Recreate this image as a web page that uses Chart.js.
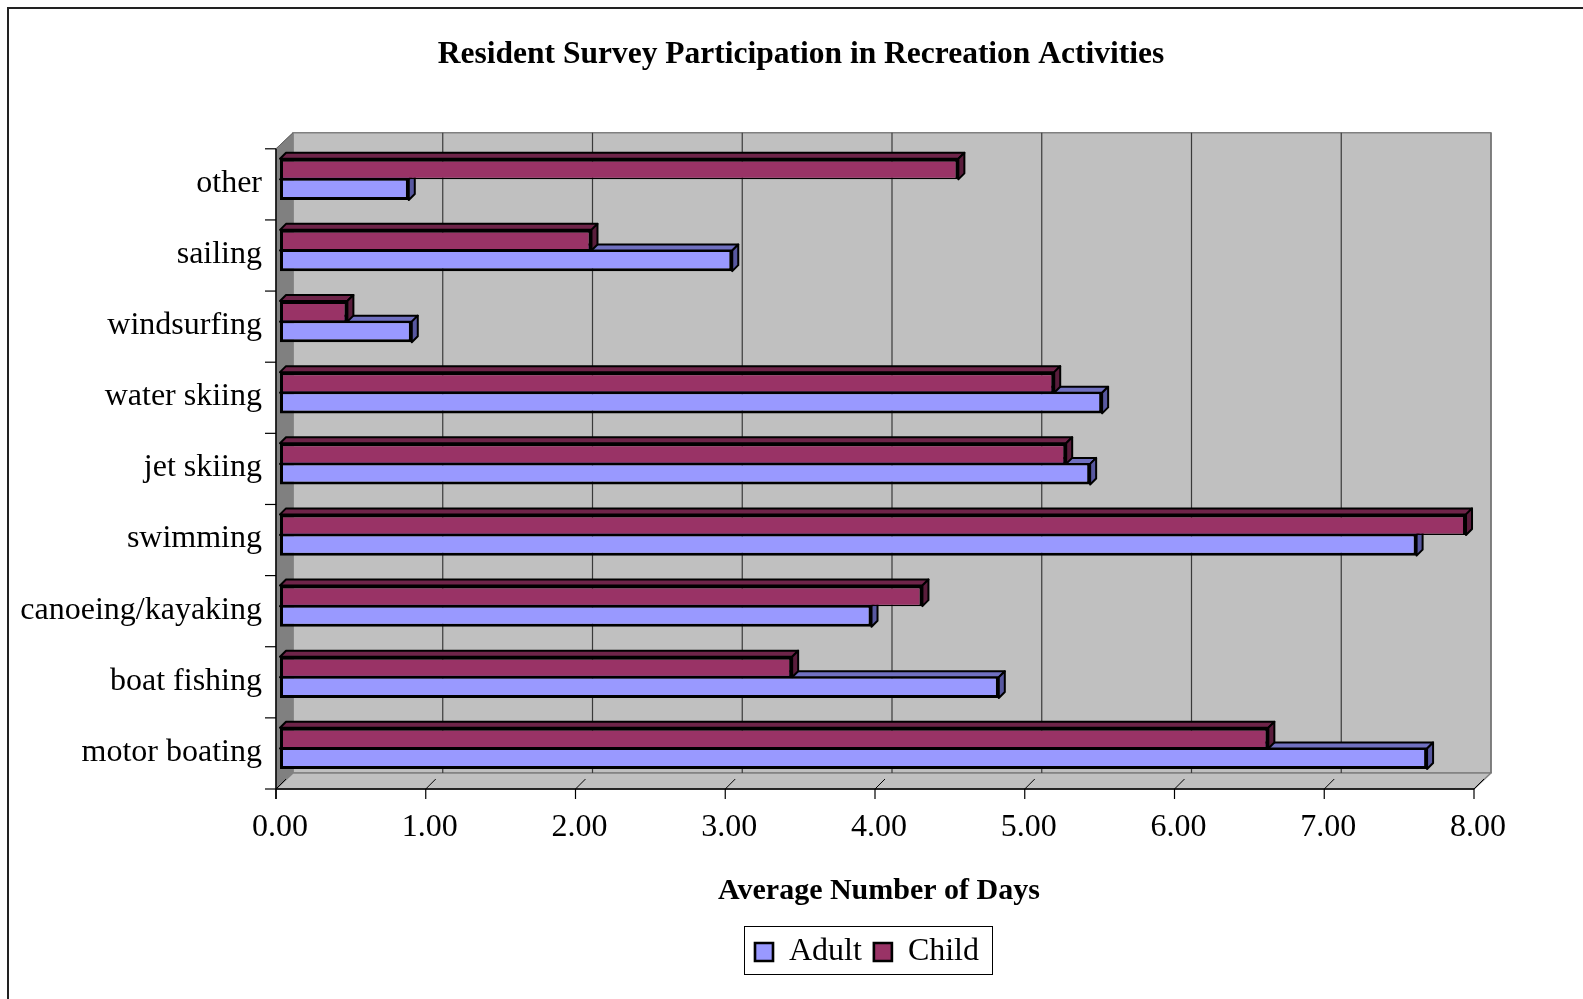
<!DOCTYPE html>
<html>
<head>
<meta charset="utf-8">
<script src="https://cdn.jsdelivr.net/npm/chart.js@4.4.1/dist/chart.umd.min.js"></script>
<style>
  html, body { margin: 0; padding: 0; background: #fff; }
  #wrap { position: relative; width: 1583px; height: 999px; overflow: hidden; }
  #frame { position: absolute; left: 7px; top: 7px; right: -5px; bottom: -5px; border-left: 2px solid #222; border-top: 2px solid #222; pointer-events: none; }
</style>
</head>
<body>
<div id="wrap">
  <canvas id="chart" width="1583" height="999"></canvas>
  <div id="frame"></div>
</div>
<script>
// data (top to bottom, as in the picture)
const categories = ["other", "sailing", "windsurfing", "water skiing", "jet skiing",
                    "swimming", "canoeing/kayaking", "boat fishing", "motor boating"];
const adultDays = [0.86, 3.02, 0.88, 5.49, 5.41, 7.59, 3.95, 4.80, 7.66];
const childDays = [4.53, 2.08, 0.45, 5.17, 5.25, 7.92, 4.29, 3.42, 6.60];
const xMin = 0;
const xMax = 8;
const xStep = 1;

const SERIF = "'Liberation Serif', 'Times New Roman', serif";
Chart.defaults.font.family = SERIF;
Chart.defaults.color = "#000";

// 3D look: offsets of the front edge and the back wall from the bar plane
const FRONT = { dx: -4, dy: 5 };
const BACK = { dx: 13, dy: -11 };
const BAR_DEPTH = 6;
const LEGEND_SHIFT = 12;

function poly(ctx, pts, fill, stroke, lw) {
    ctx.beginPath();
    ctx.moveTo(pts[0][0], pts[0][1]);
    for (let i = 1; i < pts.length; i++) ctx.lineTo(pts[i][0], pts[i][1]);
    ctx.closePath();
    if (fill) { ctx.fillStyle = fill; ctx.fill(); }
    if (stroke) { ctx.strokeStyle = stroke; ctx.lineWidth = lw || 1; ctx.stroke(); }
}

function line(ctx, x1, y1, x2, y2, color, lw) {
    ctx.beginPath();
    ctx.moveTo(x1, y1);
    ctx.lineTo(x2, y2);
    ctx.strokeStyle = color;
    ctx.lineWidth = lw;
    ctx.stroke();
}

const faceColors = [
    { top: "#6e2449", side: "#5a1d3c" },   // Child
    { top: "#7070c0", side: "#5858a0" }    // Adult
];

const walls3d = {
    id: "walls3d",
    beforeDraw(chart) {
        // legend sits a little left of the plot centre in the original
        const lg = chart.legend;
        if (!lg || lg._shiftedAt === lg.left) return;
        lg.left -= 2 * LEGEND_SHIFT;
        lg.legendHitBoxes.forEach(h => { h.left -= LEGEND_SHIFT; });
        lg._shiftedAt = lg.left;
    },
    beforeDatasetsDraw(chart) {
        const { ctx, chartArea: a, scales } = chart;
        const x = scales.x;
        const L = a.left, R = a.right, T = a.top, B = a.bottom;
        ctx.save();
        ctx.lineJoin = "round";

        // back wall
        poly(ctx, [[L + BACK.dx, T + BACK.dy], [R + BACK.dx, T + BACK.dy],
                   [R + BACK.dx, B + BACK.dy], [L + BACK.dx, B + BACK.dy]], "#c0c0c0", "#808080", 1.5);
        // left wall
        poly(ctx, [[L + FRONT.dx, T + FRONT.dy], [L + BACK.dx, T + BACK.dy],
                   [L + BACK.dx, B + BACK.dy], [L + FRONT.dx, B + FRONT.dy]], "#808080", "#808080", 1);
        // floor
        poly(ctx, [[L + BACK.dx, B + BACK.dy], [R + BACK.dx, B + BACK.dy],
                   [R + FRONT.dx, B + FRONT.dy], [L + FRONT.dx, B + FRONT.dy]], "#c0c0c0", "#808080", 1.5);

        // gridlines on the back wall
        x.ticks.forEach(t => {
            const px = x.getPixelForValue(t.value) + BACK.dx;
            if (t.value === xMin) return;
            const col = t.value === xMax ? "#707070" : "#3a3a3a";
            line(ctx, px, T + BACK.dy, px, B + BACK.dy, col, 1.2);
        });

        // front axis, tick marks and the little floor ticks
        const fy = B + FRONT.dy;
        line(ctx, L + FRONT.dx, fy, R + FRONT.dx, fy, "#000", 1.5);
        x.ticks.forEach(t => {
            const px = x.getPixelForValue(t.value) + FRONT.dx;
            line(ctx, px, fy, px, fy + 10, "#000", 1.2);
            line(ctx, px, fy, px + 10, fy - 10, "#000", 1);
        });

        // left axis with category ticks
        line(ctx, L + FRONT.dx, T + FRONT.dy, L + FRONT.dx, fy + 10, "#000", 1.5);
        line(ctx, L + FRONT.dx, T + FRONT.dy, L + BACK.dx, T + BACK.dy, "#606060", 1);
        const pitch = (B - T) / categories.length;
        for (let k = 0; k <= categories.length; k++) {
            const ty = T + k * pitch + FRONT.dy;
            line(ctx, L + FRONT.dx - 11, ty, L + FRONT.dx, ty, "#000", 1.2);
        }

        // top and side faces of the bars
        const d = BAR_DEPTH;
        [1, 0].forEach(di => {
            const meta = chart.getDatasetMeta(di);
            meta.data.forEach(el => {
                const p = el.getProps(["x", "y", "base", "height"], true);
                const top = p.y - p.height / 2, bot = p.y + p.height / 2;
                poly(ctx, [[p.base, top], [p.base + d, top - d], [p.x + d, top - d], [p.x, top]],
                     faceColors[di].top, "#000", 2);
                poly(ctx, [[p.x, top], [p.x + d, top - d], [p.x + d, bot - d], [p.x, bot]],
                     faceColors[di].side, "#000", 2);
            });
        });
        ctx.restore();
    },
    afterDraw(chart) {
        // frame round the legend
        const boxes = chart.legend.legendHitBoxes;
        if (!boxes || !boxes.length) return;
        const l = Math.min(...boxes.map(b => b.left));
        const r = Math.max(...boxes.map(b => b.left + b.width));
        const t = Math.min(...boxes.map(b => b.top));
        const b = Math.max(...boxes.map(bx => bx.top + bx.height));
        const ctx = chart.ctx;
        ctx.save();
        ctx.strokeStyle = "#000";
        ctx.lineWidth = 1;
        ctx.strokeRect(Math.round(l - 11) + 0.5, Math.round(t - 10) + 0.5, Math.round(r - l + 24), Math.round(b - t + 16));
        ctx.restore();
    }
};

const ctx = document.getElementById("chart").getContext("2d");
const chart = new Chart(ctx, {
    type: "bar",
    data: {
        labels: categories,
        datasets: [
            {
                label: "Child",
                data: childDays,
                backgroundColor: "#993366",
                borderColor: "#000",
                borderWidth: { top: 3, left: 3, right: 3, bottom: 1.5 },
                borderSkipped: false,
                categoryPercentage: 0.58,
                barPercentage: 1.0
            },
            {
                label: "Adult",
                data: adultDays,
                backgroundColor: "#9999ff",
                borderColor: "#000",
                borderWidth: { top: 1.5, left: 3, right: 3, bottom: 3 },
                borderSkipped: false,
                categoryPercentage: 0.58,
                barPercentage: 1.0
            }
        ]
    },
    options: {
        indexAxis: "y",
        responsive: false,
        animation: false,
        layout: { padding: { left: 19, right: 0, top: 0, bottom: 21 } },
        scales: {
            x: {
                min: xMin,
                max: xMax,
                grid: { display: false, drawTicks: false },
                border: { display: false },
                ticks: {
                    stepSize: xStep,
                    padding: 24,
                    font: { size: 32 },
                    color: "#000",
                    maxRotation: 0,
                    callback: v => Number(v).toFixed(2)
                },
                title: {
                    display: true,
                    text: "Average Number of Days",
                    font: { size: 30, weight: "bold" },
                    color: "#000",
                    padding: { top: 15, bottom: 15 }
                },
                afterFit(scale) { scale.height = 140; }
            },
            y: {
                grid: { display: false, drawTicks: false },
                border: { display: false },
                ticks: {
                    padding: 18,
                    labelOffset: 4,
                    font: { size: 32 },
                    color: "#000"
                },
                afterFit(scale) { scale.width = 261; }
            },
            y2: {
                type: "category",
                position: "right",
                grid: { display: false, drawTicks: false },
                border: { display: false },
                ticks: { display: false },
                afterFit(scale) { scale.width = 105; }
            }
        },
        plugins: {
            title: {
                display: true,
                text: "Resident Survey Participation in Recreation Activities",
                font: { size: 31.5, weight: "bold" },
                color: "#000",
                padding: { top: 36, bottom: 70 }
            },
            legend: {
                position: "bottom",
                fullSize: false,
                labels: {
                    font: { size: 32 },
                    color: "#000",
                    boxWidth: 18,
                    boxHeight: 18,
                    padding: 12,
                    sort: (a, b) => b.datasetIndex - a.datasetIndex
                }
            },
            tooltip: { enabled: false }
        }
    },
    plugins: [walls3d]
});
</script>
</body>
</html>
